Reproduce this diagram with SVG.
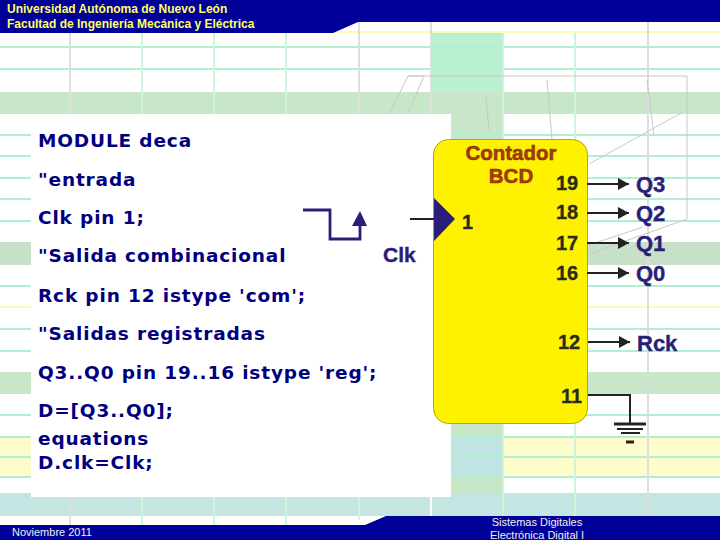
<svg xmlns="http://www.w3.org/2000/svg" width="720" height="540" viewBox="0 0 720 540">
<style>
.hl{stroke:#b0efcf;stroke-width:2;fill:none}
.hy{stroke:#fbfbb4;stroke-width:2;fill:none}
.vg{stroke:#dedede;stroke-width:2;fill:none}
.vm{stroke:#cdf5da;stroke-width:2;fill:none}
.wf{stroke:#c8c8c8;stroke-width:1;fill:none}
.code{font:bold 18.500px "DejaVu Sans",sans-serif;fill:#00007f;letter-spacing:.85px}
.hd{font:bold 12px "Liberation Sans",sans-serif;fill:#ffff66}
.ft{font:11px "Liberation Sans",sans-serif;fill:#f0f0f0}
.pin{font:bold 20px "Liberation Sans",sans-serif;fill:#2b2b1a;stroke:#2b2b1a;stroke-width:.3}
.sig{font:bold 22px "Liberation Sans",sans-serif;fill:#2a1f78;stroke:#2a1f78;stroke-width:.4}
.ttl{font:bold 20.500px "Liberation Sans",sans-serif;fill:#a83a0c;stroke:#7a2a08;stroke-width:.5}
.w{stroke:#222;stroke-width:2;fill:none}
</style>
<defs><marker id="ah" markerWidth="12" markerHeight="12" refX="11" refY="6" orient="auto" markerUnits="userSpaceOnUse"><path d="M0 0L11 6L0 12Z" fill="#222"/></marker></defs>
<g id="background">
<rect width="720" height="540" fill="#fff"/>
<rect x="0" y="92" width="720" height="22" fill="#c8e6c8"/>
<rect x="0" y="242" width="720" height="23" fill="#c8e0c8"/>
<rect x="0" y="372" width="720" height="22" fill="#c8e6c8"/>
<rect x="0" y="437" width="720" height="40" fill="#fffccc"/>
<rect x="0" y="493" width="720" height="23" fill="#c4e6e2"/>
<rect x="432" y="33" width="71" height="59" fill="#b8f0d0"/>
<rect x="432" y="114" width="71" height="380" fill="#c8e6c8"/>
<rect x="451" y="437" width="52" height="40" fill="#c0e4e4"/>
<g>
<path class="hy" d="M333 32H720M0 307H720"/>
<path class="hl" d="M0 47H720M0 69H720M0 135H720M0 156H720M0 178H720M0 199H720M0 221H720M0 286H720M0 329H720M0 351H720M0 415H720M0 437H720M0 457H720M0 477H720"/>
<path class="vg" d="M70 33V116M359 22V116M431 22V116M648 22V516M70 497V525"/>
<path class="vm" d="M142 33V116M214 33V116M286 33V116M503 33V516M575 33V516M142 497V525M214 497V525M286 497V525M359 497V520"/>
<path d="M431 497V516" stroke="#fff" stroke-width="2"/>
<path class="wf" d="M390 113L408 76H687V219L589 254M408 76L424 76M408 113L424 76M547 80L552 140M647 80L654 135M486 97L489 130M683 112L589 164M589 245L643 227"/>
</g>
</g>
<g id="header">
<path d="M0 0H720V22H358L333 33H0Z" fill="#000099"/>
<text class="hd" x="7" y="13">Universidad Autónoma de Nuevo León</text>
<text class="hd" x="7" y="28">Facultad de Ingeniería Mecánica y Eléctrica</text>
</g>
<g id="footer">
<path d="M0 540V525H365L386 516H720V540Z" fill="#000099"/>
<text class="ft" x="12" y="536">Noviembre 2011</text>
<text class="ft" x="537" y="526" text-anchor="middle">Sistemas Digitales</text>
<text class="ft" x="537" y="539" text-anchor="middle">Electrónica Digital I</text>
</g>
<g id="code">
<rect x="31" y="114" width="420" height="383" fill="#fff"/>
<text class="code" x="38" y="147">MODULE deca</text>
<text class="code" x="38" y="186">"entrada</text>
<text class="code" x="38" y="224">Clk pin 1;</text>
<text class="code" x="38" y="262">"Salida combinacional</text>
<text class="code" x="38" y="302">Rck pin 12 istype 'com';</text>
<text class="code" x="38" y="340">"Salidas registradas</text>
<text class="code" x="38" y="379">Q3..Q0 pin 19..16 istype 'reg';</text>
<text class="code" x="38" y="417">D=[Q3..Q0];</text>
<text class="code" x="38" y="445">equations</text>
<text class="code" x="38" y="469">D.clk=Clk;</text>
</g>
<g id="counter">
<rect x="433.500" y="139.500" width="154" height="284" rx="15" fill="#fff200" stroke="#b5a800"/>
<text class="ttl" x="511" y="160" text-anchor="middle">Contador</text>
<text class="ttl" x="511" y="183" text-anchor="middle">BCD</text>
<path d="M434 198L455 219L434 241Z" fill="#2a1f78"/>
<text class="pin" x="462" y="229">1</text>
<text class="pin" x="556" y="190">19</text>
<text class="pin" x="556" y="219">18</text>
<text class="pin" x="556" y="250">17</text>
<text class="pin" x="556" y="280">16</text>
<text class="pin" x="558" y="349">12</text>
<text class="pin" x="561" y="403">11</text>
</g>
<g id="connectors">
<path class="w" d="M410 219H434"/>
<path class="w" marker-end="url(#ah)" d="M587 184H629"/>
<path class="w" marker-end="url(#ah)" d="M587 213H629"/>
<path class="w" marker-end="url(#ah)" d="M587 243H629"/>
<path class="w" marker-end="url(#ah)" d="M587 273H629"/>
<path class="w" marker-end="url(#ah)" d="M588 342H630"/>
<path class="w" d="M588 395H630V423"/>
<path d="M614 424H646" stroke="#222" stroke-width="3" fill="none"/>
<path class="w" d="M617 429H643M621 433H640"/>
<path class="w" d="M626 442H634" style="stroke-width:3"/>
<path d="M303 210H330V239H360V216" fill="none" stroke="#2a1f78" stroke-width="2.800"/>
<path d="M352 226L360 211L367 226Z" fill="#2a1f78"/>
</g>
<g id="labels">
<text class="sig" x="383" y="262" style="font-size:21px">Clk</text>
<text class="sig" x="636" y="192">Q3</text>
<text class="sig" x="636" y="221">Q2</text>
<text class="sig" x="636" y="251">Q1</text>
<text class="sig" x="636" y="281">Q0</text>
<text class="sig" x="637" y="351">Rck</text>
</g>
</svg>
